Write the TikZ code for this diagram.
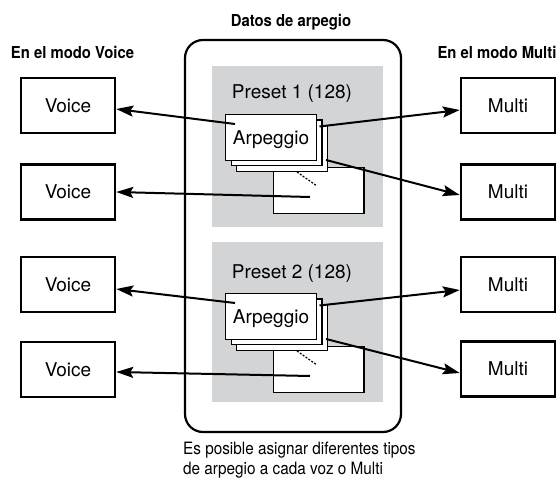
\documentclass[tikz,border=0pt]{standalone}
\usepackage{fontspec}
\setmainfont{TeX Gyre Heros}
\newfontfamily\condfont[FakeStretch=0.9]{TeX Gyre Heros}
\usetikzlibrary{positioning,arrows.meta}
\definecolor{presetgray}{RGB}{211,212,214}

\begin{document}
\begin{tikzpicture}[x=1pt,y=1pt,
  modebox/.style={draw,line width=2.5pt,minimum width=94pt,minimum height=55pt,
    inner sep=0pt,text height=13.7pt,text depth=0pt,font=\fontsize{19}{22}\selectfont},
  card/.style={draw,fill=white,line width=1.4pt,minimum width=90.6pt,minimum height=45.6pt,
    inner sep=0pt,text height=13.7pt,text depth=0pt,font=\fontsize{19}{22}\selectfont},
  link/.style={line width=2pt,-{Stealth[length=17pt,width=11pt,inset=3pt]}},
  heading/.style={anchor=base,inner sep=0pt,font=\condfont\bfseries\fontsize{16.5}{19}\selectfont}]

\useasboundingbox (0,0) rectangle (558,480);

% Datos de arpegio
\node[heading] (datos) at (291,453) {Datos de arpegio};
\draw[line width=2.2pt,rounded corners=18pt] (185,48) rectangle (401,440);

% Preset 1
\fill[presetgray] (212,253) rectangle (383,414);
\node[anchor=base,inner sep=0pt,font=\fontsize{19}{22}\selectfont] (presetA) at (292,381) {Preset 1 (128)};
\node[card] (otherA) at (318.5,289.5) {};
\draw[line width=1.2pt,dash pattern=on 2pt off 1.5pt] (297,308) -- (317,294);
\node[card] (arpA3) at (282,331.5) {};
\node[card] (arpA2) at (276.5,337) {};
\node[card] (arpA1) at (271,342.5) {Arpeggio};

% Preset 2
\fill[presetgray] (212,78) rectangle (383,238);
\node[anchor=base,inner sep=0pt,font=\fontsize{19}{22}\selectfont] (presetB) at (292,201) {Preset 2 (128)};
\node[card] (otherB) at (318.5,110.5) {};
\draw[line width=1.2pt,dash pattern=on 2pt off 1.5pt] (297,129) -- (317,115);
\node[card] (arpB3) at (282,152.5) {};
\node[card] (arpB2) at (276.5,158) {};
\node[card] (arpB1) at (271,163.5) {Arpeggio};

% En el modo Voice
\node[heading] (modoV) at (72.5,421) {En el modo Voice};
\node[modebox] (voice1) at (68,374.5) {Voice};
\node[modebox] (voice2) at (68,288) {Voice};
\node[modebox] (voice3) at (68,195.5) {Voice};
\node[modebox] (voice4) at (68,110.5) {Voice};

% En el modo Multi
\node[heading] (modoM) at (497,421) {En el modo Multi};
\node[modebox] (multi1) at (508,374.5) {Multi};
\node[modebox] (multi2) at (508,288) {Multi};
\node[modebox] (multi3) at (508,195.5) {Multi};
\node[modebox] (multi4) at (508,111) {Multi};

% Arrows
\draw[link] ([shift={(10,-10)}]arpA1.north west) -- ([yshift=-3.5pt]voice1.east);
\draw[link] ([shift={(-8.5,-6.5)}]otherA.center) -- (voice2.east);
\draw[link] ([shift={(-3,-7)}]arpA2.north east) -- ([yshift=-4.5pt]multi1.west);
\draw[link] ([shift={(-2,12)}]arpA3.south east) -- ([yshift=-3pt]multi2.west);
\draw[link] ([shift={(10,-10)}]arpB1.north west) -- ([yshift=-4.5pt]voice3.east);
\draw[link] ([shift={(-8.5,-6.5)}]otherB.center) -- ([yshift=-2.5pt]voice4.east);
\draw[link] ([shift={(-3,-7)}]arpB2.north east) -- ([yshift=-5.5pt]multi3.west);
\draw[link] ([shift={(-2,12)}]arpB3.south east) -- ([yshift=-4pt]multi4.west);

% Nota
\node[anchor=north west,align=left,inner sep=0pt,font=\condfont\fontsize{17}{20.5}\selectfont] (nota)
  at (183,38.5) {Es posible asignar diferentes tipos\\de arpegio a cada voz o Multi};

\end{tikzpicture}
\end{document}
